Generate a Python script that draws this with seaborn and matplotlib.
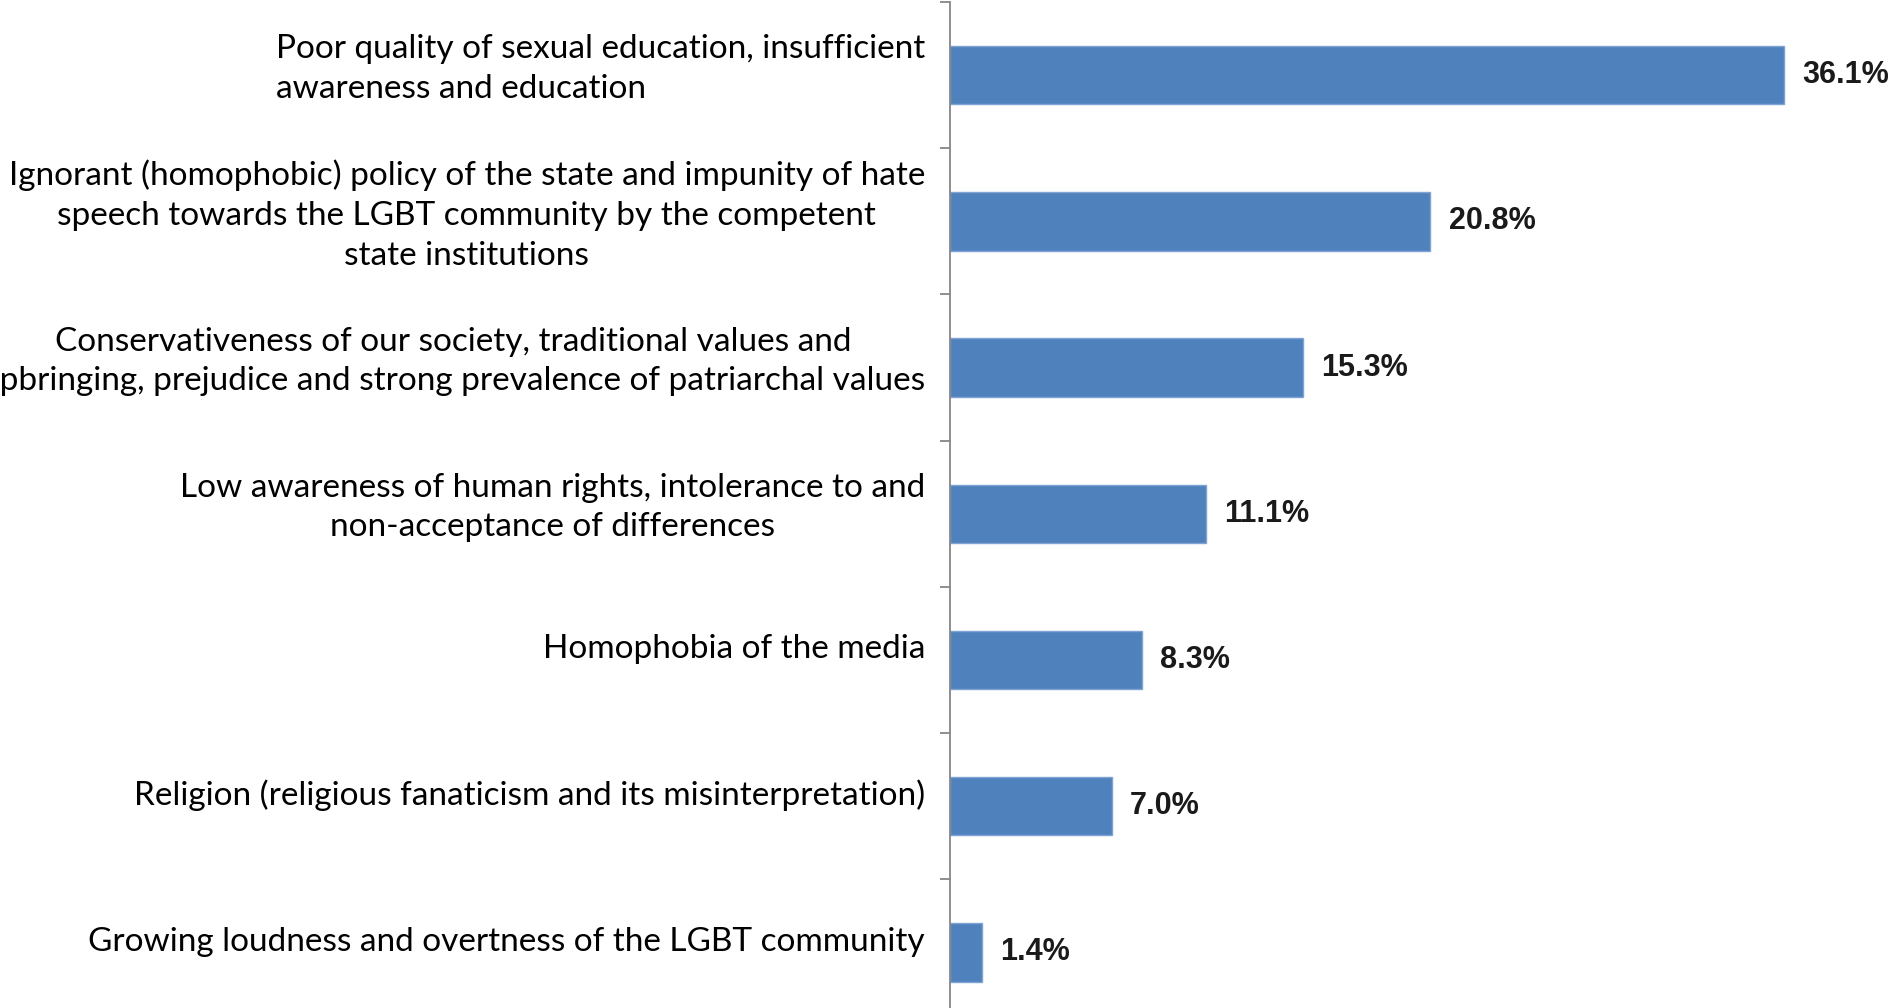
import numpy as np
import pandas as pd
import seaborn as sns
import matplotlib.pyplot as plt
import matplotlib.transforms as mtransforms

# data
reasons = [
    'Poor quality of sexual education, insufficient\nawareness and education',
    'Ignorant (homophobic) policy of the state and impunity of hate\nspeech towards the LGBT community by the competent\nstate institutions',
    'Conservativeness of our society, traditional values and\nupbringing, prejudice and strong prevalence of patriarchal values',
    'Low awareness of human rights, intolerance to and\nnon-acceptance of differences',
    'Homophobia of the media',
    'Religion (religious fanaticism and its misinterpretation)',
    'Growing loudness and overtness of the LGBT community',
]
share = [36.1, 20.8, 15.3, 11.1, 8.3, 7.0, 1.4]
value_labels = ['36.1%', '20.8%', '15.3%', '11.1%', '8.3%', '7.0%', '1.4%']

df = pd.DataFrame({'reason': reasons, 'share': share})

sns.set_style('white')
plt.rcParams['font.family'] = ['Lato', 'DejaVu Sans']

W, H = 1890, 1008
fig = plt.figure(figsize=(W / 100, H / 100), dpi=100)
ax = fig.add_axes([950 / W, 0, 1 - 950 / W, 1 - 2 / H])

sns.barplot(data=df, x='share', y='reason', orient='h', color='#4F81BD',
            width=0.4, edgecolor='#7FA3D3', linewidth=1, saturation=1, ax=ax)

ax.set_xlim(0, 940 / 23.1)
ax.set_ylim(6.38, -0.5)
ax.set_xlabel('')
ax.set_ylabel('')
ax.xaxis.set_visible(False)
for s in ['top', 'right', 'bottom']:
    ax.spines[s].set_visible(False)
ax.spines['left'].set_color('#868686')
ax.spines['left'].set_linewidth(1.3)

# category labels on major ticks (no mark), boundary marks on minor ticks
ax.set_yticks(range(len(reasons)))
ax.set_yticklabels(reasons, fontsize=24, color='black')
ax.set_yticks(np.arange(-0.5, len(reasons) - 0.5, 1), minor=True)
ax.tick_params(axis='y', which='major', length=0, pad=18)
ax.tick_params(axis='y', which='minor', length=7, width=1.3, color='#868686',
               direction='out', left=True)

shift = mtransforms.ScaledTranslation(0, 10 / 72, fig.dpi_scale_trans)
for i, lab in enumerate(ax.get_yticklabels()):
    lab.set_multialignment('left' if i == 0 else 'center')
    lab.set_linespacing(1.4)
    lab.set_transform(lab.get_transform() + shift)

ax.bar_label(ax.containers[0], labels=value_labels, padding=13, fontsize=22,
             fontweight='bold', family='Liberation Sans', color='#1a1a1a')

fig.savefig('out.png', dpi=100)
